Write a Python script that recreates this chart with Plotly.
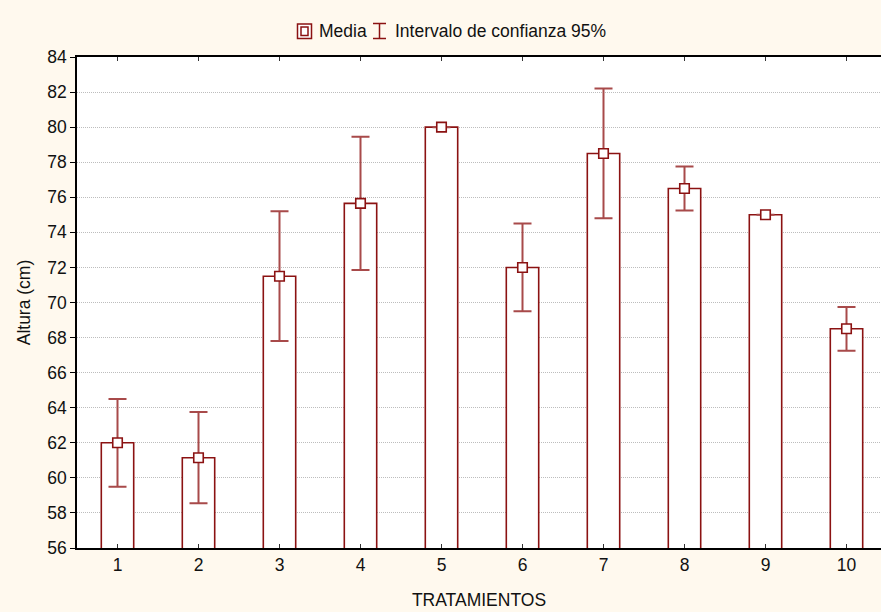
import plotly.graph_objects as go

# Tratamientos y alturas medias con su intervalo de confianza al 95 %
tratamientos = [1, 2, 3, 4, 5, 6, 7, 8, 9, 10]
media = [62.0, 61.15, 71.5, 75.65, 80.0, 72.0, 78.5, 76.5, 75.0, 68.5]
ic_superior = [64.5, 63.75, 75.2, 79.45, 80.0, 74.5, 82.2, 77.75, 75.0, 69.75]
ic_inferior = [59.5, 58.55, 67.8, 71.85, 80.0, 69.5, 74.8, 75.25, 75.0, 67.25]
y_ticks = list(range(56, 85, 2))

W, H = 881, 612
ML, MR, MT, MB = 77, 0, 57, 64
PW, PH = W - ML - MR, H - MT - MB

ROJO = "#8B1212"
ROJO_EB = "#A84A4A"
FONDO = "#FFF9EE"
FONT = "Liberation Sans, Arial, sans-serif"
FS = 17.5

err_plus = [u - m for u, m in zip(ic_superior, media)]
err_minus = [m - l for m, l in zip(media, ic_inferior)]

fig = go.Figure()
fig.add_trace(go.Bar(
    x=tratamientos, y=media, width=0.4,
    marker=dict(color="white", line=dict(color=ROJO, width=1.6)),
    showlegend=False, hoverinfo="skip",
))
fig.add_trace(go.Scatter(
    x=tratamientos, y=media, mode="markers",
    marker=dict(symbol="square", size=9.5, color="white",
                line=dict(color=ROJO, width=1.6)),
    error_y=dict(type="data", symmetric=False, array=err_plus,
                 arrayminus=err_minus, color=ROJO_EB, thickness=2, width=9),
    showlegend=False,
))

# pixel -> paper helpers for the legend drawn above the plot
def px(x):
    return (x - ML) / PW

def py(y):
    return (H - MB - y) / PH

shapes = [
    dict(type="rect", xref="paper", yref="paper",
         x0=px(297.5), x1=px(311.5), y0=py(38.5), y1=py(24),
         line=dict(color=ROJO, width=1.5), fillcolor="white"),
    dict(type="rect", xref="paper", yref="paper",
         x0=px(301), x1=px(308), y0=py(35.5), y1=py(27),
         line=dict(color=ROJO, width=1.5), fillcolor="white"),
    dict(type="line", xref="paper", yref="paper",
         x0=px(379.5), x1=px(379.5), y0=py(38.5), y1=py(23.5),
         line=dict(color=ROJO, width=1.5)),
    dict(type="line", xref="paper", yref="paper",
         x0=px(373), x1=px(386), y0=py(23.5), y1=py(23.5),
         line=dict(color=ROJO, width=1.5)),
    dict(type="line", xref="paper", yref="paper",
         x0=px(373), x1=px(386), y0=py(38.5), y1=py(38.5),
         line=dict(color=ROJO, width=1.5)),
]
annotations = [
    dict(text="Media", xref="paper", yref="paper", x=px(317), y=py(31),
         xanchor="left", yanchor="middle", showarrow=False,
         font=dict(family=FONT, size=FS, color="#111111")),
    dict(text="Intervalo de confianza 95%", xref="paper", yref="paper",
         x=px(393), y=py(31), xanchor="left", yanchor="middle",
         showarrow=False, font=dict(family=FONT, size=FS, color="#111111")),
]

fig.update_layout(
    width=W, height=H,
    margin=dict(l=ML, r=MR, t=MT, b=MB),
    paper_bgcolor=FONDO, plot_bgcolor="white",
    font=dict(family=FONT, size=FS, color="#111111"),
    showlegend=False,
    shapes=shapes, annotations=annotations,
    xaxis=dict(
        range=[0.5, 0.5 + PW / 81.0],
        tickmode="array", tickvals=tratamientos,
        ticktext=[str(t) for t in tratamientos],
        ticks="inside", ticklen=4, tickcolor="#333333", tickwidth=1,
        showline=True, linecolor="black", linewidth=1.5, mirror="ticks",
        showgrid=False, zeroline=False,
        title=dict(text="TRATAMIENTOS", standoff=20,
                   font=dict(family=FONT, size=FS)),
    ),
    yaxis=dict(
        range=[56, 84], tickmode="array", tickvals=y_ticks,
        ticktext=[str(t) for t in y_ticks],
        ticks="outside", ticklen=5, tickcolor="black", tickwidth=1,
        showline=True, linecolor="black", linewidth=1.5,
        showgrid=True, gridcolor="#BDBDBD", griddash="1px,1px", gridwidth=1,
        zeroline=False,
        title=dict(text="Altura (cm)", standoff=12,
                   font=dict(family=FONT, size=FS)),
    ),
)

fig.write_html("out.html")
